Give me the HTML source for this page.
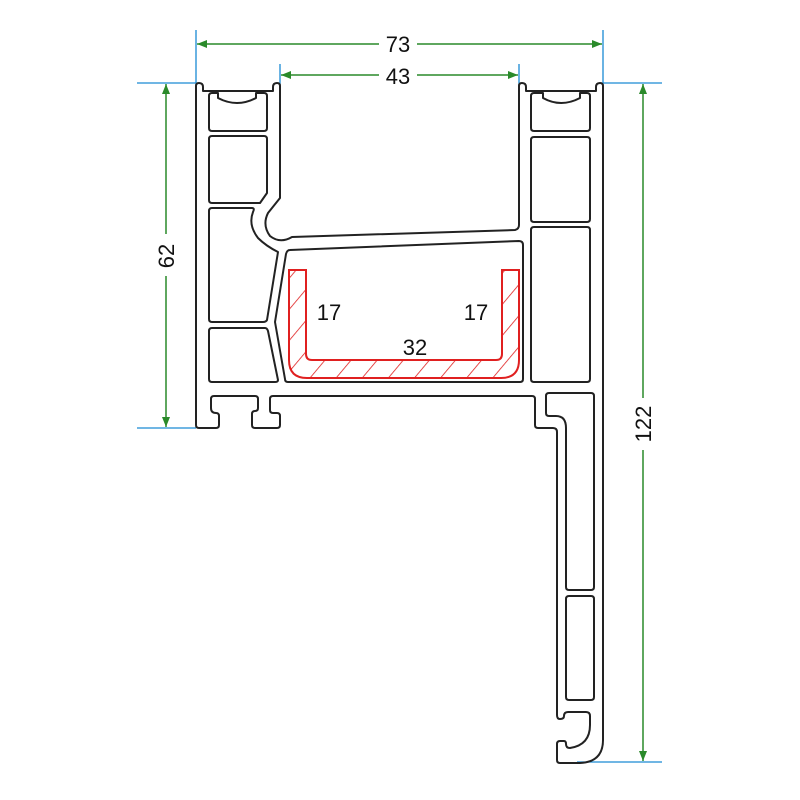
<!DOCTYPE html>
<html><head><meta charset="utf-8"><style>html,body{margin:0;padding:0;background:#fff}svg{display:block}</style></head>
<body>
<svg width="800" height="800" viewBox="0 0 800 800" xmlns="http://www.w3.org/2000/svg" font-family="Liberation Sans, sans-serif">
<defs>
<pattern id="h" width="20" height="20" patternUnits="userSpaceOnUse" patternTransform="rotate(40)">
<line x1="0" y1="0" x2="0" y2="20" stroke="#e02020" stroke-width="1.6"/>
</pattern>
<marker id="a" markerWidth="10" markerHeight="8" refX="10" refY="4" orient="auto-start-reverse" markerUnits="userSpaceOnUse"><path d="M0,0 L10,4 L0,8 Z" fill="#2a8a2a"/></marker>
</defs>
<g stroke="#1a8ad4" stroke-width="1.3">
<line x1="196" y1="30" x2="196" y2="83"/><line x1="603" y1="30" x2="603" y2="83"/>
<line x1="280" y1="64" x2="280" y2="86"/><line x1="519" y1="64" x2="519" y2="86"/>
<line x1="137" y1="83" x2="196" y2="83"/><line x1="137" y1="428" x2="196" y2="428"/>
<line x1="603" y1="83" x2="662" y2="83"/><line x1="577" y1="762" x2="662" y2="762"/>
</g>
<g stroke="#2a8a2a" stroke-width="1.5" fill="none">
<line x1="197" y1="44" x2="379" y2="44" marker-start="url(#a)"/><line x1="417" y1="44" x2="602" y2="44" marker-end="url(#a)"/>
<line x1="281" y1="75" x2="379" y2="75" marker-start="url(#a)"/><line x1="417" y1="75" x2="518" y2="75" marker-end="url(#a)"/>
<line x1="166" y1="84" x2="166" y2="234" marker-start="url(#a)"/><line x1="166" y1="276" x2="166" y2="427" marker-end="url(#a)"/>
<line x1="643" y1="84" x2="643" y2="398" marker-start="url(#a)"/><line x1="643" y1="450" x2="643" y2="761" marker-end="url(#a)"/>
</g>
<g font-size="22" fill="#111" text-anchor="middle">
<text x="398" y="52">73</text><text x="398" y="84">43</text>
<text transform="translate(174,256) rotate(-90)">62</text>
<text transform="translate(651,424) rotate(-90)">122</text>
<text x="329" y="320">17</text><text x="476" y="320">17</text><text x="415" y="355">32</text>
</g>
<g fill="none" stroke="#222" stroke-width="2" stroke-linejoin="round">
<path d="M196,86 Q196,83 199,83 Q203,83 203,87 L203,91 L273,91 L273,87 Q273,83 277,83 Q280,83 280,86 L280,198 L268,213 Q262,225 270,236 Q280,244 292,237 L515,230 Q519,229 519,225 L519,86 Q519,83 522,83 Q526,83 526,87 L526,91 L596,91 L596,87 Q596,83 600,83 Q603,83 603,86 L603,740 Q603,762 580,763 L560,763 Q557,763 557,760 L557,744 Q557,741 560,741 L564,741 Q566,741 566,744 Q566,748 570,748 Q590,745 590,725 L590,716 Q590,712 586,712 L568,712 Q564,712 564,716 Q564,719 560,719 Q557,719 557,715 L557,432 Q557,428 553,428 L538,428 Q535,428 535,425 L535,399 Q535,396 532,396 L273,396 Q270,396 270,399 L270,410 Q270,413 273,413 L277,413 Q280,413 280,416 L280,425 Q280,428 277,428 L255,428 Q252,428 252,425 L252,414 Q252,411 255,411 Q258,411 258,408 L258,399 Q258,396 255,396 L214,396 Q211,396 211,399 L211,408 Q211,413 216,413 Q219,413 219,416 L219,425 Q219,428 216,428 L199,428 Q196,428 196,425 Z"/>
<path d="M212,131 L264,131 Q267,131 267,128 L267,96 Q267,93 264,93 L256,93 L256,98 Q237,108 218,98 L218,93 L212,93 Q209,93 209,96 L209,128 Q209,131 212,131 Z"/>
<path d="M535,131 L587,131 Q590,131 590,128 L590,96 Q590,93 587,93 L580,93 L580,98 Q561,108 543,98 L543,93 L534,93 Q531,93 531,96 L531,128 Q531,131 534,131 Z"/>
<path d="M212,136 L264,136 Q267,136 267,139 L267,193 L260,203 L212,203 Q209,203 209,200 L209,139 Q209,136 212,136 Z"/>
<path d="M212,208 L252,208 Q255,208 253,212 Q248,225 258,238 Q266,246 278,252 L267,320 Q266,322 263,322 L212,322 Q209,322 209,319 L209,211 Q209,208 212,208 Z"/>
<path d="M212,328 L265,328 Q267,328 268,331 L278,380 Q278,382 275,382 L212,382 Q209,382 209,379 L209,331 Q209,328 212,328 Z"/>
<path d="M290,250 L519,241 Q523,241 523,245 L523,379 Q523,382 520,382 L288,382 Q285,382 285,379 L275,322 L286,254 Q287,250 290,250 Z"/>
<path d="M534,137 L587,137 Q590,137 590,140 L590,219 Q590,222 587,222 L534,222 Q531,222 531,219 L531,140 Q531,137 534,137 Z"/>
<path d="M534,227 L587,227 Q590,227 590,230 L590,379 Q590,382 587,382 L534,382 Q531,382 531,379 L531,230 Q531,227 534,227 Z"/>
<path d="M549,393 L591,393 Q594,393 594,396 L594,587 Q594,590 591,590 L569,590 Q566,590 566,587 L566,428 Q566,416 556,416 L549,416 Q546,416 546,413 L546,396 Q546,393 549,393 Z"/>
<path d="M569,596 L591,596 Q594,596 594,599 L594,697 Q594,700 591,700 L569,700 Q566,700 566,697 L566,599 Q566,596 569,596 Z"/>
</g>
<path d="M289,270 L306,270 L306,354 Q306,360 312,360 L496,360 Q502,360 502,354 L502,270 L519,270 L519,360 Q519,378 501,378 L307,378 Q289,378 289,360 Z" fill="url(#h)" stroke="#e02020" stroke-width="2"/>
</svg>
</body></html>
